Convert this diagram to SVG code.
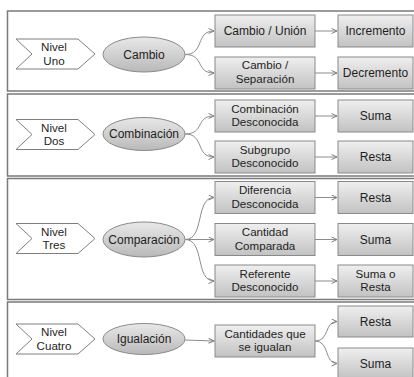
<svg xmlns="http://www.w3.org/2000/svg" width="414" height="377" viewBox="0 0 414 377">
<defs>
<linearGradient id="gBox" x1="0" y1="0" x2="0" y2="1">
<stop offset="0" stop-color="#efefef"/>
<stop offset="1" stop-color="#c2c2c2"/>
</linearGradient>
<linearGradient id="gEll" x1="0" y1="0" x2="0" y2="1">
<stop offset="0" stop-color="#e8e8e8"/>
<stop offset="1" stop-color="#b9b9b9"/>
</linearGradient>
<marker id="arr" markerUnits="userSpaceOnUse" markerWidth="8" markerHeight="8" refX="6" refY="3" orient="auto">
<path d="M0.5,0.5 L6,3 L0.5,5.5" fill="none" stroke="#808080" stroke-width="1"/>
</marker>
</defs>
<style>
.panel{fill:#fff;stroke:#7a7a7a;stroke-width:1.5}
.chev{fill:#fff;stroke:#7f7f7f;stroke-width:1}
.ell{fill:url(#gEll);stroke:#8a8a8a;stroke-width:1}
.box{fill:url(#gBox);stroke:#8a8a8a;stroke-width:1}
text{font-family:"Liberation Sans",Arial,sans-serif;font-size:12px;fill:#1e1e1e;text-anchor:middle}
.t2{font-size:11.6px}
.con{fill:none;stroke:#8c8c8c;stroke-width:1;marker-end:url(#arr)}
</style>
<rect width="414" height="377" fill="#fff"/>
<g id="panels">
<rect class="panel" x="7.5" y="11" width="420" height="80"/>
<rect class="panel" x="7.5" y="94" width="420" height="82"/>
<rect class="panel" x="7.5" y="178.5" width="420" height="121"/>
<rect class="panel" x="7.5" y="302" width="420" height="100"/>
</g>
<g id="connectors">
<path class="con" d="M185,54.5 C205,54.5 195,31 214,31"/>
<path class="con" d="M185,54.5 C205,54.5 195,73 214,73"/>
<path class="con" d="M315,31 L337,31"/>
<path class="con" d="M315,73 L337,73"/>
<path class="con" d="M185,134 C205,134 195,116 214,116"/>
<path class="con" d="M185,134 C205,134 195,157 214,157"/>
<path class="con" d="M315,116 L337,116"/>
<path class="con" d="M315,157 L337,157"/>
<path class="con" d="M185,239.5 C205,239.5 195,197.5 214,197.5"/>
<path class="con" d="M185,239.5 L214,239.5"/>
<path class="con" d="M185,239.5 C205,239.5 195,281 214,281"/>
<path class="con" d="M315,197.5 L337,197.5"/>
<path class="con" d="M315,239.5 L337,239.5"/>
<path class="con" d="M315,281 L337,281"/>
<path class="con" d="M185,340 L214,341"/>
<path class="con" d="M315,341 C330,341 324,321.5 337,321.5"/>
<path class="con" d="M315,341 C330,341 324,363.5 337,363.5"/>
</g>
<g id="nivel-uno"><polygon class="chev" points="16,39 78,39 95,54 78,69 16,69 32,54"/><text class="t2" x="54" y="51">Nivel</text><text class="t2" x="54" y="64.5">Uno</text></g>
<g id="cambio"><ellipse class="ell" cx="144" cy="54.5" rx="41" ry="17.5"/><text x="144" y="58.5">Cambio</text></g>
<g id="cambio-union"><rect class="box" x="215" y="15" width="100" height="32"/><text x="265" y="35">Cambio / Unión</text></g>
<g id="cambio-separacion"><rect class="box" x="215" y="57" width="100" height="32"/><text class="t2" x="265" y="69">Cambio /</text><text class="t2" x="265" y="82.5">Separación</text></g>
<g id="incremento"><rect class="box" x="338" y="15" width="75" height="32"/><text x="375.5" y="35">Incremento</text></g>
<g id="decremento"><rect class="box" x="338" y="57" width="75" height="32"/><text x="375.5" y="77">Decremento</text></g>

<g id="nivel-dos"><polygon class="chev" points="16,119.5 78,119.5 95,134.5 78,149.5 16,149.5 32,134.5"/><text class="t2" x="54" y="131.5">Nivel</text><text class="t2" x="54" y="145">Dos</text></g>
<g id="combinacion"><ellipse class="ell" cx="144" cy="134" rx="41" ry="16.5"/><text x="144" y="138">Combinación</text></g>
<g id="combinacion-desconocida"><rect class="box" x="215" y="100" width="100" height="32"/><text class="t2" x="265" y="112.5">Combinación</text><text class="t2" x="265" y="126">Desconocida</text></g>
<g id="subgrupo-desconocido"><rect class="box" x="215" y="141" width="100" height="32"/><text class="t2" x="265" y="153.5">Subgrupo</text><text class="t2" x="265" y="167">Desconocido</text></g>
<g id="suma-2"><rect class="box" x="338" y="100" width="75" height="32"/><text x="375.5" y="120">Suma</text></g>
<g id="resta-2"><rect class="box" x="338" y="141" width="75" height="32"/><text x="375.5" y="161">Resta</text></g>

<g id="nivel-tres"><polygon class="chev" points="16,223.5 78,223.5 95,238.5 78,253.5 16,253.5 32,238.5"/><text class="t2" x="54" y="235.5">Nivel</text><text class="t2" x="54" y="249">Tres</text></g>
<g id="comparacion"><ellipse class="ell" cx="144" cy="239.5" rx="41" ry="17.5"/><text x="144" y="243.5">Comparación</text></g>
<g id="diferencia-desconocida"><rect class="box" x="215" y="181.5" width="100" height="32"/><text class="t2" x="265" y="194">Diferencia</text><text class="t2" x="265" y="207.5">Desconocida</text></g>
<g id="cantidad-comparada"><rect class="box" x="215" y="223.5" width="100" height="32"/><text class="t2" x="265" y="236">Cantidad</text><text class="t2" x="265" y="249.5">Comparada</text></g>
<g id="referente-desconocido"><rect class="box" x="215" y="265" width="100" height="32"/><text class="t2" x="265" y="277.5">Referente</text><text class="t2" x="265" y="291">Desconocido</text></g>
<g id="resta-3"><rect class="box" x="338" y="181.5" width="75" height="32"/><text x="375.5" y="201.5">Resta</text></g>
<g id="suma-3"><rect class="box" x="338" y="223.5" width="75" height="32"/><text x="375.5" y="243.5">Suma</text></g>
<g id="suma-o-resta"><rect class="box" x="338" y="265" width="75" height="32"/><text class="t2" x="375.5" y="277.5">Suma o</text><text class="t2" x="375.5" y="291">Resta</text></g>

<g id="nivel-cuatro"><polygon class="chev" points="16,324 78,324 95,339 78,354 16,354 32,339"/><text class="t2" x="54" y="336">Nivel</text><text class="t2" x="54" y="349.5">Cuatro</text></g>
<g id="igualacion"><ellipse class="ell" cx="144" cy="339" rx="41" ry="15.5"/><text x="144" y="343">Igualación</text></g>
<g id="cantidades-igualan"><rect class="box" x="215" y="325" width="100" height="32"/><text class="t2" x="265" y="337.5">Cantidades que</text><text class="t2" x="265" y="351">se igualan</text></g>
<g id="resta-4"><rect class="box" x="338" y="306" width="75" height="31"/><text x="375.5" y="325.5">Resta</text></g>
<g id="suma-4"><rect class="box" x="338" y="348" width="75" height="31"/><text x="375.5" y="367.5">Suma</text></g>
</svg>
